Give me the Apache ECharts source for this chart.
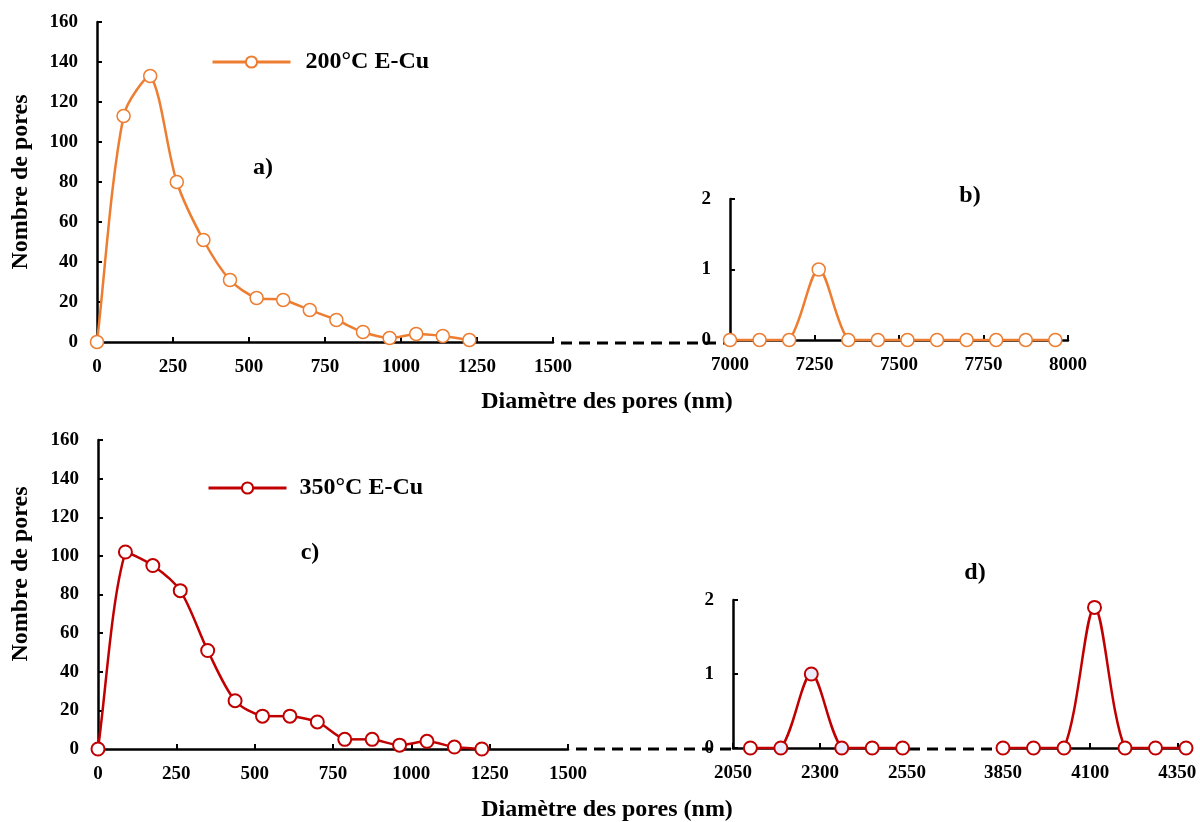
<!DOCTYPE html>
<html><head><meta charset="utf-8">
<script src="https://cdn.jsdelivr.net/npm/echarts@6/dist/echarts.min.js"></script>
<style>html,body{margin:0;padding:0;background:#fff}#c{width:1200px;height:822px}</style>
</head><body><div id="c"></div>
<script>
// ---- data ----
const seriesTop = '200°C E-Cu';
const seriesBot = '350°C E-Cu';
const xA = [0, 87.5, 175, 262.5, 350, 437.5, 525, 612.5, 700, 787.5, 875, 962.5, 1050, 1137.5, 1225];
const yA = [0, 113, 133, 80, 51, 31, 22, 21, 16, 11, 5, 2, 4, 3, 1];
const xB = [7000, 7087.5, 7175, 7262.5, 7350, 7437.5, 7525, 7612.5, 7700, 7787.5, 7875, 7962.5];
const yB = [0, 0, 0, 1, 0, 0, 0, 0, 0, 0, 0, 0];
const xC = [0, 87.5, 175, 262.5, 350, 437.5, 525, 612.5, 700, 787.5, 875, 962.5, 1050, 1137.5, 1225];
const yC = [0, 102, 95, 82, 51, 25, 17, 17, 14, 5, 5, 2, 4, 1, 0];
const xD1 = [2100, 2187.5, 2275, 2362.5, 2450, 2537.5];
const yD1 = [0, 0, 1, 0, 0, 0];
const xD2 = [3850, 3937.5, 4025, 4112.5, 4200, 4287.5, 4375];
const yD2 = [0, 0, 0, 1.9, 0, 0, 0];
const ticksD2 = [3850, 4100, 4350];
const xTitle = 'Diamètre des pores (nm)';
const yTitle = 'Nombre de pores';
const panelLabels = ['a)', 'b)', 'c)', 'd)'];

// ---- style ----
const FF = '"Liberation Serif", "Times New Roman", serif';
const ORANGE = '#ED7D31';
const RED = '#C00000';
const SMOOTH = 0.3;

function pairs(xs, ys) { return xs.map((x, i) => [x, ys[i]]); }
const plain = v => String(v);

function xAx(g, min, max, interval, custom) {
  const a = {
    type: 'value', gridIndex: g, min: min, max: max, interval: interval,
    axisLine: { show: true, onZero: false, lineStyle: { color: '#000', width: 2.5 } },
    axisTick: { show: true, inside: true, length: 5, lineStyle: { color: '#000', width: 2 } },
    axisLabel: { color: '#000', fontFamily: FF, fontWeight: 'bold', fontSize: 19, margin: 16, formatter: plain },
    splitLine: { show: false }
  };
  if (custom) {
    a.axisTick.customValues = custom;
    a.axisLabel.customValues = custom;
  }
  return a;
}
function yAx(g, max, interval, show) {
  return {
    type: 'value', gridIndex: g, min: 0, max: max, interval: interval, show: show !== false,
    axisLine: { show: true, onZero: false, lineStyle: { color: '#000', width: 2.5 } },
    axisTick: { show: true, inside: true, length: 5, lineStyle: { color: '#000', width: 2 } },
    axisLabel: { color: '#000', fontFamily: FF, fontWeight: 'bold', fontSize: 19, margin: 19, formatter: plain },
    splitLine: { show: false }
  };
}
// markers (and legend entry)
function markers(name, gi, data, color, bw) {
  return {
    name: name, type: 'line', xAxisIndex: gi, yAxisIndex: gi, data: data,
    symbol: 'circle', symbolSize: 13, showAllSymbol: true,
    lineStyle: { color: color, width: 2.5, opacity: 0 },
    itemStyle: { color: '#fff', borderColor: color, borderWidth: bw },
    emphasis: { disabled: true }, animation: false, z: 6
  };
}
// smoothed curve (length-weighted spline, control points kept within each segment's value range)
function curve(gi, xs, ys, color) {
  const n = xs.length;
  return {
    type: 'custom', xAxisIndex: gi, yAxisIndex: gi, data: pairs(xs, ys),
    encode: { x: 0, y: 1 }, z: 4, silent: true, animation: false, clip: false,
    renderItem: function (params, api) {
      const i = params.dataIndex;
      if (i >= n - 1) return null;
      const P = k => { k = Math.max(0, Math.min(n - 1, k)); return api.coord([xs[k], ys[k]]); };
      const dist = (a, b) => Math.hypot(a[0] - b[0], a[1] - b[1]);
      function cp(k, dir) {
        const pp = P(k - 1), pc = P(k), pn = P(k + 1);
        const l0 = dist(pp, pc), l1 = dist(pc, pn);
        const tot = l0 + l1 || 1;
        const dx = pn[0] - pp[0], dy = pn[1] - pp[1];
        const r = dir > 0 ? l1 / tot : l0 / tot;
        return [pc[0] + dir * dx * SMOOTH * r, pc[1] + dir * dy * SMOOTH * r];
      }
      const p1 = P(i), p2 = P(i + 1);
      const c1 = cp(i, 1), c2 = cp(i + 1, -1);
      const lo = Math.min(p1[1], p2[1]), hi = Math.max(p1[1], p2[1]);
      c1[1] = Math.max(lo, Math.min(hi, c1[1]));
      c2[1] = Math.max(lo, Math.min(hi, c2[1]));
      return {
        type: 'bezierCurve',
        shape: { x1: p1[0], y1: p1[1], x2: p2[0], y2: p2[1], cpx1: c1[0], cpy1: c1[1], cpx2: c2[0], cpy2: c2[1] },
        style: { stroke: color, lineWidth: 2.5, fill: 'none' }
      };
    }
  };
}

const dataD1 = pairs(xD1, yD1).map((p, i) => (i >= 1 && i <= 3)
  ? { value: p, itemStyle: { color: '#ececff', borderColor: RED } } : p);

const legendCommon = { padding: 0, itemWidth: 78, itemHeight: 14, selectedMode: false };

const chart = echarts.init(document.getElementById('c'));
chart.setOption({
  animation: false,
  backgroundColor: '#fff',
  grid: [
    { left: 97, top: 22, width: 456, height: 320 },
    { left: 730, top: 199, width: 338, height: 141 },
    { left: 98, top: 440, width: 470, height: 309 },
    { left: 733, top: 600, width: 174, height: 148 },
    { left: 1003, top: 600, width: 183, height: 148 }
  ],
  xAxis: [
    xAx(0, 0, 1500, 250),
    xAx(1, 7000, 8000, 250),
    xAx(2, 0, 1500, 250),
    xAx(3, 2050, 2550, 250),
    xAx(4, 3850, 4375, 250, ticksD2)
  ],
  yAxis: [
    yAx(0, 160, 20),
    yAx(1, 2, 1),
    yAx(2, 160, 20),
    yAx(3, 2, 1),
    yAx(4, 2, 1, false)
  ],
  legend: [
    Object.assign({ data: [seriesTop], left: 211, top: 50,
      lineStyle: { color: ORANGE, width: 3, opacity: 1 },
      textStyle: { fontFamily: FF, fontWeight: 'bold', fontSize: 24, color: '#000', padding: [0, 0, 0, 10] } }, legendCommon),
    Object.assign({ data: [seriesBot], left: 207, top: 476,
      lineStyle: { color: RED, width: 3, opacity: 1 },
      textStyle: { fontFamily: FF, fontWeight: 'bold', fontSize: 24, color: '#000', padding: [0, 0, 0, 8] } }, legendCommon)
  ],
  series: [
    curve(0, xA, yA, ORANGE),
    curve(1, xB, yB, ORANGE),
    curve(2, xC, yC, RED),
    curve(3, xD1, yD1, RED),
    curve(4, xD2, yD2, RED),
    markers(seriesTop, 0, pairs(xA, yA), ORANGE, 1.5),
    markers(seriesTop, 1, pairs(xB, yB), ORANGE, 1.5),
    markers(seriesBot, 2, pairs(xC, yC), RED, 2),
    markers(seriesBot, 3, dataD1, RED, 2),
    markers(seriesBot, 4, pairs(xD2, yD2), RED, 2)
  ]
});

// decorative break lines and texts
const pa = chart.convertToPixel({ gridIndex: 0 }, [1500, 0]);
const pb = chart.convertToPixel({ gridIndex: 1 }, [7000, 0]);
const pc = chart.convertToPixel({ gridIndex: 2 }, [1500, 0]);
const pd1s = chart.convertToPixel({ gridIndex: 3 }, [2050, 0]);
const pd1e = chart.convertToPixel({ gridIndex: 3 }, [2550, 0]);
const pd2s = chart.convertToPixel({ gridIndex: 4 }, [3850, 0]);
const dash = { stroke: '#000', lineWidth: 3, lineDash: [11, 7] };
function dline(x1, x2, y) {
  return { type: 'line', shape: { x1: x1, y1: y, x2: x2, y2: y }, style: dash, z: 1, silent: true };
}
function txt(t, x, y, size, rot) {
  return { type: 'text', x: x, y: y, rotation: rot || 0, z: 10, silent: true,
    style: { text: t, fill: '#000', font: 'bold ' + size + 'px ' + FF, align: 'center', verticalAlign: 'middle' } };
}
chart.setOption({
  graphic: [
    dline(pa[0] + 8, pb[0] - 2, pa[1] + 1),
    dline(pc[0] + 8, pd1s[0] - 2, pc[1]),
    dline(pd1e[0] + 2, pd2s[0] - 2, pc[1]),
    txt(xTitle, 607, 402, 24),
    txt(xTitle, 607, 810, 24),
    txt(yTitle, 21, 182, 24, Math.PI / 2),
    txt(yTitle, 21, 574, 24, Math.PI / 2),
    txt(panelLabels[0], 263, 168, 24),
    txt(panelLabels[1], 970, 196, 24),
    txt(panelLabels[2], 310, 553, 24),
    txt(panelLabels[3], 975, 573, 24)
  ]
});
</script></body></html>
